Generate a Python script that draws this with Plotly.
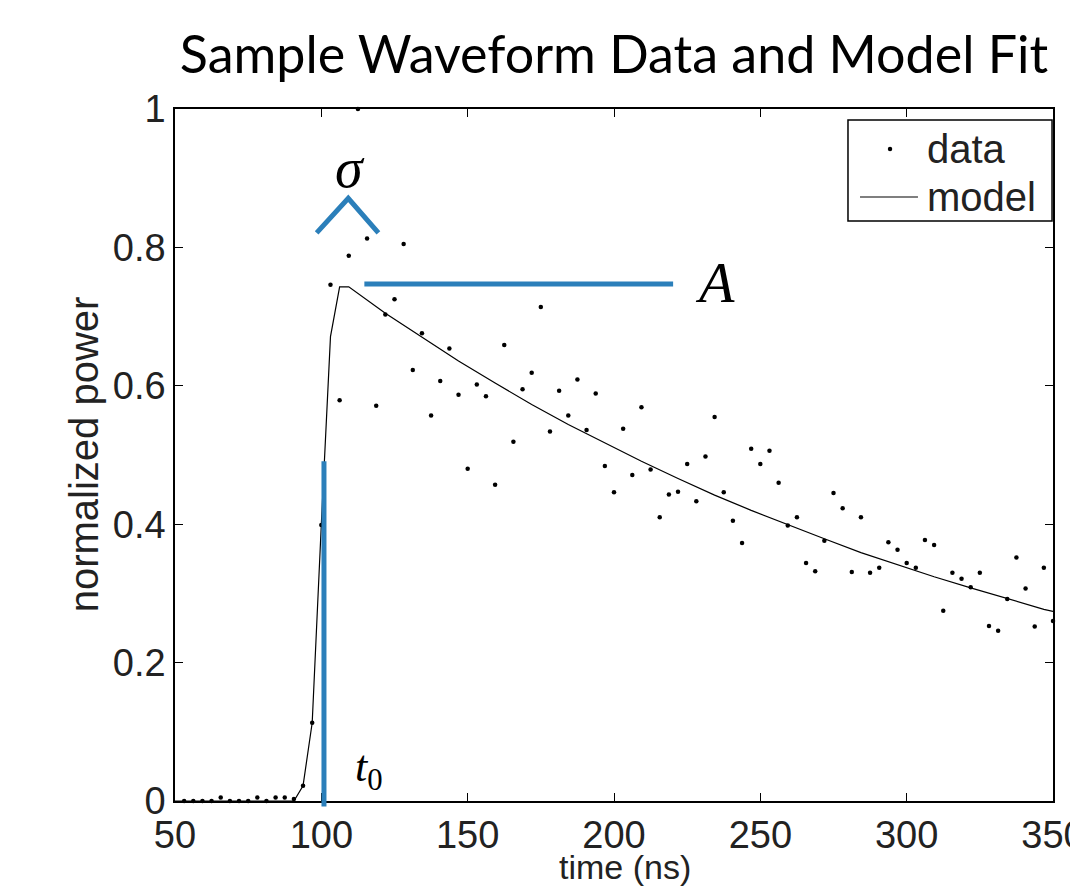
import plotly.graph_objects as go

# ---------------- data ----------------
time_ns = [
    53.125, 56.25, 59.375, 62.5, 65.625, 68.75, 71.875, 75.0,
    78.125, 81.25, 84.375, 87.5, 90.625, 93.75, 96.875, 100.0,
    103.125, 106.25, 109.375, 112.5, 115.625, 118.75, 121.875, 125.0,
    128.125, 131.25, 134.375, 137.5, 140.625, 143.75, 146.875, 150.0,
    153.125, 156.25, 159.375, 162.5, 165.625, 168.75, 171.875, 175.0,
    178.125, 181.25, 184.375, 187.5, 190.625, 193.75, 196.875, 200.0,
    203.125, 206.25, 209.375, 212.5, 215.625, 218.75, 221.875, 225.0,
    228.125, 231.25, 234.375, 237.5, 240.625, 243.75, 246.875, 250.0,
    253.125, 256.25, 259.375, 262.5, 265.625, 268.75, 271.875, 275.0,
    278.125, 281.25, 284.375, 287.5, 290.625, 293.75, 296.875, 300.0,
    303.125, 306.25, 309.375, 312.5, 315.625, 318.75, 321.875, 325.0,
    328.125, 331.25, 334.375, 337.5, 340.625, 343.75, 346.875, 350.0,
]
data_power = [
    0.000, 0.000, 0.000, 0.000, 0.005, 0.000, 0.000, 0.000,
    0.005, 0.000, 0.005, 0.005, 0.003, 0.022, 0.113, 0.399,
    0.746, 0.579, 0.788, 1.000, 0.813, 0.571, 0.703, 0.725,
    0.805, 0.623, 0.676, 0.557, 0.607, 0.654, 0.587, 0.480,
    0.602, 0.585, 0.457, 0.659, 0.519, 0.595, 0.619, 0.714,
    0.534, 0.593, 0.557, 0.609, 0.536, 0.589, 0.484, 0.446,
    0.538, 0.471, 0.569, 0.479, 0.410, 0.443, 0.447, 0.487,
    0.433, 0.498, 0.555, 0.446, 0.405, 0.373, 0.509, 0.487,
    0.506, 0.460, 0.398, 0.410, 0.344, 0.332, 0.376, 0.445,
    0.423, 0.331, 0.410, 0.330, 0.337, 0.374, 0.363, 0.344,
    0.337, 0.377, 0.370, 0.275, 0.330, 0.321, 0.309, 0.330,
    0.253, 0.246, 0.292, 0.352, 0.307, 0.252, 0.337, 0.260,
]

model_time_ns = [
    50.0, 90.625, 93.75, 96.875, 100.0, 103.125, 106.25, 109.375,
    121.875, 134.375, 146.875, 159.375, 171.875, 184.375, 196.875,
    209.375, 221.875, 234.375, 246.875, 259.375, 271.875, 284.375,
    296.875, 309.375, 321.875, 334.375, 346.875, 350.0,
]
model_power = [
    0.000, 0.000, 0.022, 0.113, 0.400, 0.671, 0.743, 0.743,
    0.705, 0.670, 0.636, 0.604, 0.573, 0.544, 0.517,
    0.491, 0.466, 0.442, 0.420, 0.399, 0.379, 0.359,
    0.341, 0.324, 0.308, 0.292, 0.277, 0.274,
]

x_ticks = [50, 100, 150, 200, 250, 300, 350]
x_tick_labels = ["50", "100", "150", "200", "250", "300", "350"]
y_ticks = [0, 0.2, 0.4, 0.6, 0.8, 1.0]
y_tick_labels = ["0", "0.2", "0.4", "0.6", "0.8", "1"]
legend_labels = ["data", "model"]

# annotation parameters (model fit parameters illustrated)
t0_ns = 100.9
t0_line_top = 0.491
amp_level = 0.747
amp_line_x = [114.7, 220.2]
sigma_caret_x = [98.4, 109.2, 119.5]
sigma_caret_y = [0.821, 0.871, 0.821]

BLUE = "#2b7fba"
TEXT = "#222222"
SANS = "Liberation Sans, Arial, Helvetica, sans-serif"
SERIF = "Liberation Serif, Times New Roman, serif"

fig = go.Figure()
fig.add_trace(go.Scatter(
    x=time_ns, y=data_power, mode="markers", name=legend_labels[0],
    marker=dict(color="black", size=4.5), cliponaxis=False, showlegend=False,
))
fig.add_trace(go.Scatter(
    x=model_time_ns, y=model_power, mode="lines", name=legend_labels[1],
    line=dict(color="black", width=1.2), showlegend=False,
))

# blue annotation shapes
fig.add_shape(type="line", xref="x", yref="paper", x0=t0_ns, x1=t0_ns,
              y0=-0.008, y1=t0_line_top, line=dict(color=BLUE, width=5))
fig.add_shape(type="line", xref="x", yref="y", x0=amp_line_x[0], x1=amp_line_x[1],
              y0=amp_level, y1=amp_level, line=dict(color=BLUE, width=5))
fig.add_shape(type="path", xref="x", yref="y",
              path="M {},{} L {},{} L {},{}".format(
                  sigma_caret_x[0], sigma_caret_y[0],
                  sigma_caret_x[1], sigma_caret_y[1],
                  sigma_caret_x[2], sigma_caret_y[2]),
              line=dict(color=BLUE, width=5))

fig.add_annotation(x=109.8, y=0.915, text="<i>σ</i>", showarrow=False,
                   font=dict(family=SERIF, size=56, color="black"))
fig.add_annotation(x=234.5, y=0.75, text="<i>A</i>", showarrow=False,
                   font=dict(family=SERIF, size=58, color="black"))
fig.add_annotation(x=116.3, y=0.045, text="<i>t</i><sub>0</sub>", showarrow=False,
                   font=dict(family=SERIF, size=44, color="black"))

# legend (MATLAB-style box)
fig.add_shape(type="rect", xref="paper", yref="paper", x0=0.7665, x1=0.9989,
              y0=0.8382, y1=0.9841, line=dict(color="black", width=1.5),
              fillcolor="white", layer="above")
fig.add_shape(type="circle", xref="paper", yref="paper", xsizemode="pixel",
              ysizemode="pixel", xanchor=0.8144, yanchor=0.9422,
              x0=-2.2, x1=2.2, y0=-2.2, y1=2.2,
              fillcolor="black", line=dict(width=0), layer="above")
fig.add_shape(type="line", xref="paper", yref="paper", x0=0.7802, x1=0.8462,
              y0=0.8728, y1=0.8728, line=dict(color="black", width=1.2), layer="above")
fig.add_annotation(xref="paper", yref="paper", x=0.8542, y=0.9422, xanchor="left",
                   yanchor="middle", showarrow=False, text=legend_labels[0],
                   font=dict(family=SANS, size=40, color=TEXT))
fig.add_annotation(xref="paper", yref="paper", x=0.8542, y=0.8728, xanchor="left",
                   yanchor="middle", showarrow=False, text=legend_labels[1],
                   font=dict(family=SANS, size=40, color=TEXT))

# axis titles
fig.add_annotation(xref="paper", yref="paper", x=0.5125, y=0, yshift=-66,
                   xanchor="center", yanchor="middle", showarrow=False,
                   text="time (ns)", font=dict(family=SANS, size=34, color=TEXT))
fig.add_annotation(xref="paper", yref="paper", x=0, y=0.501, xshift=-91,
                   xanchor="center", yanchor="middle", showarrow=False, textangle=-90,
                   text="normalized power", font=dict(family=SANS, size=40, color=TEXT))

fig.update_layout(
    width=1078, height=892,
    margin=dict(l=167, r=33, t=101, b=99, autoexpand=False),
    paper_bgcolor="white", plot_bgcolor="white",
    font=dict(family=SANS, size=38, color=TEXT),
    title=dict(text="Sample Waveform Data and Model Fit", x=0.5, xref="paper",
               xanchor="center", y=1 - 47 / 892, yanchor="middle", yref="container",
               font=dict(family="Lato, sans-serif", size=52, color="black")),
    showlegend=False,
)
fig.update_xaxes(
    range=[50, 350], tickvals=x_ticks, ticktext=x_tick_labels,
    showline=True, linecolor="black", linewidth=1.5, mirror="ticks",
    ticks="inside", ticklen=8, tickwidth=1.2, tickcolor="black",
    showgrid=False, zeroline=False, ticklabeloverflow="allow", automargin=False,
)
fig.update_yaxes(
    range=[0, 1], tickvals=y_ticks, ticktext=y_tick_labels,
    showline=True, linecolor="black", linewidth=1.5, mirror="ticks",
    ticks="inside", ticklen=8, tickwidth=1.2, tickcolor="black",
    showgrid=False, zeroline=False, ticklabeloverflow="allow", automargin=False,
)

fig.write_html("out.html")
